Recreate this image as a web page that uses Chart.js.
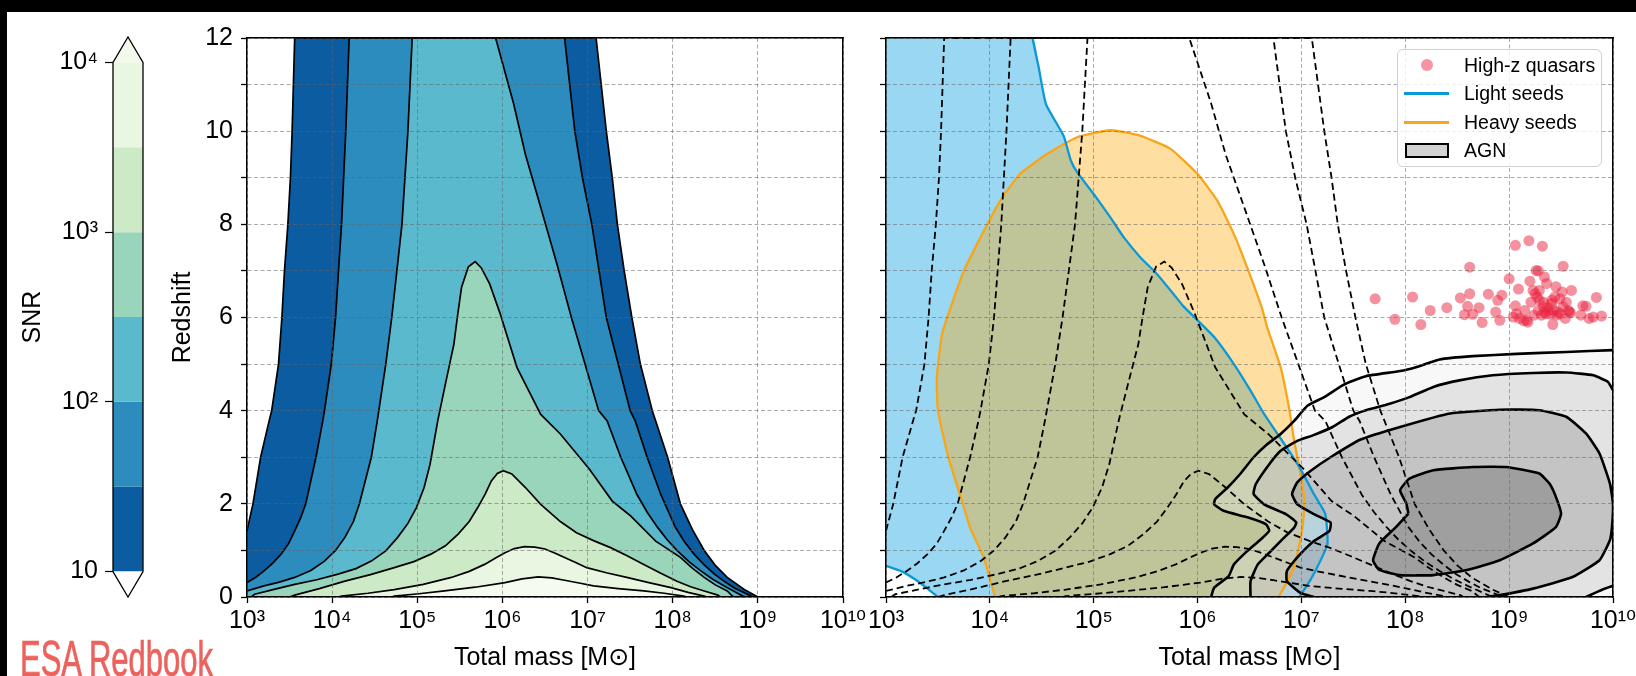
<!DOCTYPE html>
<html>
<head>
<meta charset="utf-8">
<script src="https://cdn.jsdelivr.net/npm/chart.js@4.4.1/dist/chart.umd.min.js"></script>
<style>
  html, body { margin: 0; padding: 0; background: #fff; }
  #page { position: relative; width: 1636px; height: 676px; overflow: hidden; background: #fff;
          font-family: 'Liberation Sans', 'DejaVu Sans', sans-serif; }
  #page canvas { position: absolute; left: 0; top: 0; }
  .band-top { position: absolute; left: 0; top: 0; width: 1636px; height: 12px; background: #000; }
  .band-left { position: absolute; left: 0; top: 0; width: 7px; height: 676px; background: #000; }
  #brand { position: absolute; left: 20px; top: 634px; font-family: 'Liberation Sans Narrow', 'Liberation Sans', sans-serif;
           font-size: 50px; line-height: 50px; color: #ec625c; white-space: nowrap; transform-origin: left top;
           -webkit-text-stroke: 0.7px #ec625c; }
  #legend { position: absolute; left: 1397px; top: 49px; width: 205px; height: 118px; box-sizing: border-box;
            border: 1px solid #d0d0d0; border-radius: 6px; background: rgba(255,255,255,0.8); font-size: 19.5px; }
  #legend .row { position: absolute; left: 0; height: 28px; line-height: 28px; width: 100%; }
  #legend .txt { position: absolute; left: 66px; top: 0; }
  #legend .dot { position: absolute; left: 23px; top: 8px; width: 12px; height: 12px; border-radius: 50%; background: rgba(238,60,85,0.55); }
  #legend .ln { position: absolute; left: 6px; top: 13px; width: 45px; height: 3px; }
  #legend .box { position: absolute; left: 7px; top: 7px; width: 44px; height: 15px; box-sizing: border-box; border: 2px solid #000; background: #d2d2d2; }
</style>
</head>
<body>
<div id="page">
  <canvas id="cbar" width="1636" height="676"></canvas>
  <canvas id="snrPanel" width="1636" height="676"></canvas>
  <canvas id="popPanel" width="1636" height="676"></canvas>
  <div class="band-top"></div>
  <div class="band-left"></div>
  <div id="legend">
    <div class="row" style="top:1px"><span class="dot"></span><span class="txt">High-z quasars</span></div>
    <div class="row" style="top:29px"><span class="ln" style="background:#0a99d6"></span><span class="txt">Light seeds</span></div>
    <div class="row" style="top:58px"><span class="ln" style="background:#f9a51a"></span><span class="txt">Heavy seeds</span></div>
    <div class="row" style="top:86px"><span class="box"></span><span class="txt">AGN</span></div>
  </div>
  <div id="brand">ESA Redbook</div>
</div>
<script>
// axes: x = log10(total mass / Msun), y = redshift
const massTicks = [3, 4, 5, 6, 7, 8, 9, 10];
const redshiftTicks = [0, 1, 2, 3, 4, 5, 6, 7, 8, 9, 10, 11, 12];
const snrLevels = [10, 31.6, 100, 316, 1000, 3162, 10000];
const snrTicks = [10, 100, 1000, 10000];

// SNR contours, [log10 M, z], left to right
const snr10 = [[3.00,1.42],[3.07,2.0],[3.16,3.0],[3.26,3.78],[3.29,4.0],[3.37,5.0],[3.41,6.0],[3.44,7.0],[3.48,8.0],[3.51,9.0],[3.53,10.0],[3.56,12.0],
  [7.10,12.0],[7.22,10.0],[7.29,9.0],[7.35,8.0],[7.43,7.0],[7.52,6.0],[7.62,5.0],[7.76,4.0],[7.80,3.78],[7.94,3.0],[8.09,2.0],[8.23,1.45],[8.37,1.0],[8.50,0.68],[8.64,0.42],[8.84,0.16],[9.00,0.0]];
const snr32 = [[3.00,0.31],[3.10,0.42],[3.20,0.56],[3.30,0.72],[3.40,0.92],[3.49,1.15],[3.56,1.42],[3.63,1.7],[3.69,2.0],[3.81,3.0],[3.89,3.78],[3.91,4.0],[3.99,5.0],[4.04,6.0],[4.11,8.0],[4.16,10.0],[4.20,12.0],
  [6.73,12.0],[6.85,10.0],[6.94,9.0],[7.05,8.0],[7.22,6.0],[7.36,5.0],[7.50,4.0],[7.56,3.78],[7.70,3.0],[7.86,2.2],[8.03,1.5],[8.14,1.18],[8.25,0.92],[8.37,0.69],[8.49,0.49],[8.61,0.33],[8.72,0.2],[8.92,0.02],[8.95,0.0]];
const snr100 = [[3.00,0.13],[3.20,0.24],[3.38,0.32],[3.56,0.42],[3.75,0.57],[3.91,0.77],[4.04,1.0],[4.15,1.28],[4.25,1.62],[4.32,2.0],[4.46,3.0],[4.53,3.78],[4.63,5.0],[4.70,6.0],[4.82,8.0],[4.89,10.0],[4.94,12.0],
  [5.92,12.0],[6.13,10.6],[6.27,9.5],[6.45,8.36],[6.64,7.15],[6.81,6.0],[6.97,5.0],[7.13,4.0],[7.23,3.78],[7.39,3.0],[7.58,2.2],[7.70,1.82],[7.82,1.5],[7.93,1.24],[8.05,1.0],[8.19,0.76],[8.33,0.56],[8.47,0.38],[8.60,0.24],[8.82,0.02],[8.85,0.0]];
const snr316 = [[3.05,0.0],[3.09,0.06],[3.33,0.17],[3.56,0.27],[3.82,0.37],[4.07,0.49],[4.28,0.61],[4.46,0.77],[4.63,0.99],[4.77,1.28],[4.89,1.58],[4.99,1.92],[5.08,2.35],[5.15,2.85],[5.24,3.78],[5.33,4.57],[5.43,5.43],[5.47,6.0],[5.52,6.65],[5.60,7.09],[5.68,7.2],
  [5.75,7.07],[5.85,6.72],[5.97,6.1],[6.17,4.93],[6.45,3.92],[6.68,3.5],[7.02,2.75],[7.29,2.06],[7.50,1.75],[7.80,1.2],[8.09,0.85],[8.23,0.62],[8.37,0.42],[8.50,0.26],[8.64,0.13],[8.70,0.02],[8.72,0.0]];
const snr1000 = [[3.50,0.0],[3.56,0.04],[3.85,0.18],[4.15,0.34],[4.45,0.48],[4.73,0.63],[4.96,0.76],[5.16,0.92],[5.33,1.1],[5.48,1.35],[5.61,1.62],[5.71,1.92],[5.80,2.22],[5.87,2.49],[5.94,2.65],[6.01,2.71],[6.11,2.64],[6.27,2.35],[6.45,1.99],
  [6.68,1.62],[6.87,1.38],[7.07,1.21],[7.27,1.06],[7.47,0.88],[7.66,0.7],[7.86,0.51],[8.05,0.34],[8.21,0.22],[8.37,0.13],[8.53,0.04],[8.56,0.0]];
const snr3162 = [[4.08,0.0],[4.11,0.02],[4.42,0.08],[4.73,0.16],[5.07,0.27],[5.40,0.42],[5.61,0.55],[5.79,0.70],[5.93,0.85],[6.03,0.95],[6.14,1.04],[6.26,1.08],[6.38,1.07],[6.50,1.03],[6.62,0.94],[6.73,0.85],[6.86,0.74],[6.99,0.63],[7.22,0.52],[7.46,0.42],[7.72,0.31],[7.98,0.2],[8.18,0.1],[8.37,0.02],[8.40,0.0]];
const snr10000 = [[4.70,0.0],[4.73,0.02],[5.02,0.07],[5.32,0.13],[5.68,0.21],[6.03,0.31],[6.23,0.39],[6.42,0.43],[6.58,0.41],[6.73,0.36],[6.90,0.30],[7.07,0.24],[7.36,0.18],[7.66,0.13],[7.90,0.08],[8.13,0.02],[8.16,0.0]];
const snrContours = [snr10, snr32, snr100, snr316, snr1000, snr3162, snr10000];

// seed populations
const lightSeedsEdge = [[4.41,12.0],[4.47,11.37],[4.54,10.58],[4.71,9.90],[4.78,9.37],[4.84,9.12],[5.00,8.65],[5.16,8.15],[5.29,7.72],[5.45,7.29],[5.61,6.93],
  [5.77,6.50],[5.86,6.25],[6.00,5.94],[6.16,5.58],[6.35,5.00],[6.51,4.43],[6.64,3.93],[6.77,3.50],[6.90,3.07],[7.01,2.67],[7.12,2.21],[7.23,1.78],[7.25,1.13],[7.15,0.63],[7.06,0.27],[6.98,0.0]];
const lightSeedsCorner = [[3.50,0.0],[3.40,0.18],[3.30,0.35],[3.15,0.55],[3.00,0.67]];
const heavySeeds = [[4.05,0.0],[3.94,0.85],[3.81,1.49],[3.71,2.21],[3.60,3.0],[3.50,4.0],[3.49,4.72],[3.54,5.65],[3.62,6.2],[3.75,7.0],[3.91,7.72],[4.10,8.51],
  [4.29,9.08],[4.55,9.51],[4.84,9.87],[5.16,10.02],[5.45,9.90],[5.74,9.62],[6.00,9.08],[6.19,8.51],[6.35,7.79],[6.49,7.0],[6.62,6.2],[6.67,5.79],[6.80,4.93],
  [6.88,4.07],[6.93,3.35],[6.98,2.78],[7.03,2.06],[7.01,1.49],[6.96,0.92],[6.90,0.49],[6.78,0.0]];

// AGN density contours
const agn1 = [[6.13,0.0],[6.16,0.20],[6.30,0.45],[6.35,0.70],[6.48,0.99],[6.61,1.24],[6.69,1.42],[6.66,1.56],[6.48,1.71],[6.25,1.85],[6.16,1.99],[6.17,2.10],
  [6.29,2.35],[6.41,2.64],[6.54,3.00],[6.67,3.28],[6.80,3.50],[6.93,3.78],[7.06,4.11],[7.22,4.29],[7.40,4.55],[7.62,4.74],[7.95,4.85],[8.11,4.94],[8.33,5.10],
  [8.65,5.17],[9.07,5.22],[9.55,5.26],[10.0,5.30]];
const agn2 = [[6.51,0.0],[6.51,0.34],[6.58,0.70],[6.69,0.95],[6.80,1.20],[6.93,1.49],[6.95,1.60],[6.85,1.78],[6.64,1.99],[6.54,2.21],[6.56,2.42],[6.69,2.85],
  [6.80,3.14],[6.96,3.35],[7.11,3.47],[7.30,3.65],[7.46,3.87],[7.62,4.01],[7.85,4.15],[8.04,4.29],[8.27,4.51],[8.52,4.65],[8.84,4.76],[9.23,4.81],[9.55,4.82],
  [9.81,4.76],[9.95,4.62],[10.0,4.44]];
const agn2Corner = [[10.0,0.24],[9.90,0.16],[9.74,0.0]];
const agn3 = [[7.12,0.0],[6.99,0.09],[6.86,0.34],[6.86,0.56],[6.96,0.85],[7.12,1.20],[7.27,1.42],[7.28,1.60],[7.12,1.78],[6.96,1.99],[6.91,2.21],[6.96,2.46],
  [7.09,2.71],[7.28,3.0],[7.57,3.38],[7.95,3.65],[8.43,3.94],[8.91,4.02],[9.29,4.01],[9.55,3.87],[9.74,3.51],[9.87,3.08],[9.97,2.44],[10.0,2.0],[9.99,1.5],
  [9.97,1.22],[9.87,0.79],[9.61,0.43],[9.23,0.18],[8.91,0.04],[8.78,0.0]];
const agn4 = [[8.03,1.79],[7.91,1.50],[7.75,1.15],[7.69,0.79],[7.75,0.58],[7.95,0.47],[8.27,0.47],[8.59,0.58],[8.91,0.79],[9.23,1.15],[9.45,1.50],[9.50,1.79],
  [9.45,2.15],[9.39,2.43],[9.29,2.65],[8.97,2.79],[8.65,2.79],[8.27,2.72],[8.04,2.54],[7.95,2.29],[8.01,2.01],[8.03,1.79]];

// high-z quasars
const quasarLogM = [7.71,7.90,8.07,8.15,8.24,8.40,8.53,8.57,8.62,8.62,8.60,8.65,8.71,8.74,8.80,8.87,8.89,8.91,8.93,9.00,
  9.06,9.06,9.07,9.09,9.15,9.17,9.19,9.20,9.21,9.23,9.24,9.26,9.27,9.28,9.29,9.32,9.33,9.34,9.35,9.36,
  9.38,9.41,9.42,9.45,9.46,9.49,9.51,9.52,9.54,9.55,9.58,9.60,9.69,9.71,9.74,9.77,9.81,9.84,9.89,
  9.04,9.10,9.14,9.18,9.28,9.31,9.34,9.37,9.40,9.43,9.47,9.52,9.57,9.59,9.29,9.25,9.33,9.41,9.44,9.49];
const quasarZ = [6.40,5.96,6.44,5.85,6.15,6.21,6.42,6.06,7.08,6.51,6.24,6.07,6.21,5.89,6.50,6.12,6.37,5.94,6.48,6.83,
  7.55,6.25,6.08,6.61,6.15,5.94,7.65,6.78,6.33,6.58,6.05,7.01,6.44,7.00,6.37,7.53,6.23,6.87,6.08,6.73,
  6.15,6.37,5.85,6.66,6.05,6.08,6.55,7.10,5.98,6.33,6.12,6.58,6.05,6.25,6.24,5.98,6.01,6.43,6.03,
  6.01,5.98,5.93,5.90,6.15,6.05,6.12,6.21,6.07,6.15,6.12,6.23,6.15,6.10,6.58,6.51,6.33,6.30,6.44,6.40];

// styles
const snrColors = ['#0b5ca0', '#2c8cbe', '#5bb9cd', '#99d5ba', '#cceac6', '#e9f6e1', '#f5fbef'];
const snrTopColor = '#f2f9ec';
const agnFills = ['rgba(235,235,235,0.35)', 'rgba(188,188,188,0.35)', 'rgba(138,138,138,0.35)', 'rgba(93,93,93,0.35)'];
const gridColor = 'rgba(100,100,100,0.55)';
const noLine = 'rgba(0,0,0,0)';

Chart.defaults.font.family = "'Liberation Sans', 'DejaVu Sans', sans-serif";
Chart.defaults.font.size = 25;
Chart.defaults.color = '#000';

const sup = {'0':'⁰','1':'¹','2':'²','3':'³','4':'⁴','5':'⁵','6':'⁶','7':'⁷','8':'⁸','9':'⁹'};
function pow10Label(e) {
    return '10' + String(e).split('').map(c => sup[c]).join('');
}
function xy(arr) {
    return arr.map(p => ({ x: p[0], y: p[1] }));
}
function withOrder(list) {
    // first entry is drawn first (bottom)
    return list.map((d, i) => Object.assign({ order: list.length - i }, d));
}

function baseOptions(padding) {
    return {
        responsive: false,
        animation: false,
        devicePixelRatio: 1,
        events: [],
        layout: { padding: padding, autoPadding: false },
        plugins: {
            legend: { display: false },
            tooltip: { enabled: false },
            filler: { drawTime: 'beforeDatasetsDraw' }
        },
        elements: {
            point: { radius: 0, hoverRadius: 0 },
            line: { tension: 0.15, capBezierPoints: false }
        }
    };
}

function massAxis() {
    return {
        type: 'linear', position: 'bottom', min: 3, max: 10,
        afterBuildTicks: s => { s.ticks = massTicks.map(v => ({ value: v })); },
        ticks: { callback: v => pow10Label(v), autoSkip: false, maxRotation: 0, padding: 3 },
        grid: { color: gridColor, lineWidth: 1, z: 1, tickLength: 6, tickColor: '#000', tickWidth: 1.3, tickBorderDash: [], borderDash: [4, 2.5] },
        border: { color: '#000', width: 1.5, dash: [4, 2.5], z: 2 },
        title: { display: true, text: 'Total mass [M⊙]', padding: { top: 0, bottom: 3 } },
        afterFit: s => { s.height = 79; s.paddingLeft = 0; s.paddingRight = 0; }
    };
}
function redshiftAxis(showLabels, width) {
    return {
        type: 'linear', position: 'left', min: 0, max: 12,
        afterBuildTicks: s => { s.ticks = redshiftTicks.map(v => ({ value: v })); },
        ticks: { display: showLabels, callback: v => (v % 2 === 0 ? String(v) : ''), padding: 8 },
        grid: { color: gridColor, lineWidth: 1, z: 1, tickLength: 6, tickColor: '#000', tickWidth: 1.3, tickBorderDash: [], borderDash: [4, 2.5] },
        border: { color: '#000', width: 1.5, dash: [4, 2.5], z: 2 },
        title: { display: showLabels, text: 'Redshift', padding: { top: 0, bottom: 0 } },
        afterFit: s => { s.width = width; }
    };
}
function spines() {
    const common = { type: 'linear', grid: { display: false, drawTicks: false }, ticks: { display: false },
                     border: { display: true, color: '#000', width: 1.5, z: 2 } };
    return {
        xTop: Object.assign({}, common, { position: 'top', min: 3, max: 10, afterFit: s => { s.height = 0; } }),
        yRight: Object.assign({}, common, { position: 'right', min: 0, max: 12, afterFit: s => { s.width = 0; } })
    };
}

// ---------- colour bar ----------
(function () {
    const extend = Math.pow(10, 0.15);
    const cbMin = snrLevels[0] / extend;
    const cbMax = snrLevels[snrLevels.length - 1] * extend;
    const top = snrLevels[snrLevels.length - 1];
    const bottom = snrLevels[0];
    const sets = [];
    for (let i = 0; i < snrLevels.length - 1; i++) {
        sets.push({ data: xy([[0, snrLevels[i]], [1, snrLevels[i]], [1, snrLevels[i + 1]], [0, snrLevels[i + 1]]]),
                    fill: 'shape', backgroundColor: snrColors[i], borderColor: noLine, borderWidth: 0, tension: 0 });
    }
    sets.push({ data: xy([[0, top], [1, top], [0.5, cbMax]]), fill: 'shape', backgroundColor: snrTopColor, borderColor: noLine, borderWidth: 0, tension: 0 });
    sets.push({ data: xy([[0, bottom], [1, bottom], [0.5, cbMin]]), fill: 'shape', backgroundColor: '#ffffff', borderColor: noLine, borderWidth: 0, tension: 0 });
    sets.push({ data: xy([[0, bottom], [0, top], [0.5, cbMax], [1, top], [1, bottom], [0.5, cbMin], [0, bottom]]),
                fill: false, borderColor: '#000', borderWidth: 1.3, tension: 0, clip: false });

    const opts = baseOptions({ left: 18, right: 1493, top: 37, bottom: 79 });
    opts.scales = {
        x: { type: 'linear', min: 0, max: 1, display: false },
        y: {
            type: 'logarithmic', position: 'left', min: cbMin, max: cbMax,
            afterBuildTicks: s => { s.ticks = snrTicks.map(v => ({ value: v })); },
            ticks: { callback: v => (v === 10 ? '10' : pow10Label(Math.round(Math.log10(v)))), padding: 7 },
            grid: { drawOnChartArea: false, tickLength: 8, tickColor: '#000', tickWidth: 1.2 },
            border: { display: false },
            title: { display: true, text: 'SNR', padding: { top: 0, bottom: 0 } },
            afterFit: s => { s.width = 95; }
        }
    };
    new Chart(document.getElementById('cbar'), { type: 'line', data: { datasets: withOrder(sets) }, options: opts });
})();

// ---------- left panel: SNR contours ----------
(function () {
    const sets = snrContours.map((c, i) => ({
        data: xy(c), fill: 'origin', backgroundColor: snrColors[i], borderColor: '#000', borderWidth: 1.7, tension: 0
    }));
    const opts = baseOptions({ left: 168, right: 793, top: 38, bottom: 0 });
    opts.scales = Object.assign({ x: massAxis(), y: redshiftAxis(true, 79) }, spines());
    new Chart(document.getElementById('snrPanel'), { type: 'line', data: { datasets: withOrder(sets) }, options: opts });
})();

// ---------- right panel: populations ----------
(function () {
    const sets = [];
    // fills
    sets.push({ data: xy([[3, 12]].concat(lightSeedsEdge, lightSeedsCorner)), fill: 'shape',
                backgroundColor: 'rgba(0,154,222,0.4)', borderColor: noLine, borderWidth: 0 });
    sets.push({ data: xy(heavySeeds), fill: 'shape', backgroundColor: 'rgba(255,165,0,0.37)',
                borderColor: '#f9a51a', borderWidth: 2.3 });
    sets.push({ data: xy(agn1.concat([[10, 0]])), fill: 'shape', backgroundColor: agnFills[0], borderColor: noLine, borderWidth: 0 });
    sets.push({ data: xy(agn2.concat(agn2Corner)), fill: 'shape', backgroundColor: agnFills[1], borderColor: noLine, borderWidth: 0 });
    sets.push({ data: xy(agn3), fill: 'shape', backgroundColor: agnFills[2], borderColor: noLine, borderWidth: 0 });
    sets.push({ data: xy(agn4), fill: 'shape', backgroundColor: agnFills[3], borderColor: noLine, borderWidth: 0 });
    // light seeds outline
    sets.push({ data: xy(lightSeedsEdge), borderColor: '#0a99d6', borderWidth: 2.3 });
    sets.push({ data: xy(lightSeedsCorner), borderColor: '#0a99d6', borderWidth: 2.3 });
    // AGN contour lines
    [agn1, agn2, agn2Corner, agn3, agn4].forEach(c => {
        sets.push({ data: xy(c), borderColor: '#000', borderWidth: 2.6 });
    });
    // SNR contours, dashed
    snrContours.forEach(c => {
        sets.push({ data: xy(c), borderColor: '#000', borderWidth: 1.8, borderDash: [7, 4], tension: 0 });
    });
    // quasars
    sets.push({ data: quasarLogM.map((m, i) => ({ x: m, y: quasarZ[i] })), showLine: false,
                pointRadius: 5.5, pointHoverRadius: 5.5, pointBorderWidth: 0,
                pointBackgroundColor: 'rgba(234,35,64,0.5)', borderColor: noLine });

    const opts = baseOptions({ left: 880, right: 23, top: 38, bottom: 0 });
    opts.scales = Object.assign({ x: massAxis(), y: redshiftAxis(false, 6) }, spines());
    new Chart(document.getElementById('popPanel'), { type: 'line', data: { datasets: withOrder(sets) }, options: opts });
})();

// squeeze the brand text to the width it has in the figure
(function () {
    const el = document.getElementById('brand');
    const w = el.getBoundingClientRect().width;
    el.style.transform = 'scaleX(' + (193 / w).toFixed(3) + ')';
})();
</script>
</body>
</html>
